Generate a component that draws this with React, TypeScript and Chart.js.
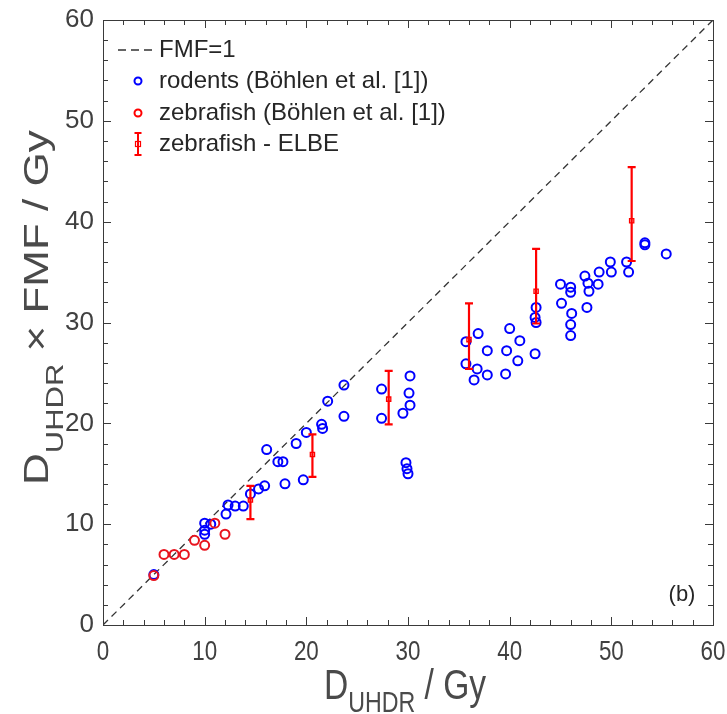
import React, { useEffect, useRef } from "react";
import { Chart, registerables } from "chart.js";

Chart.register(...registerables);

// ---------- data ----------
const fmfX = [0, 60];
const fmfY = [0, 60];

const rodentsX = [
  5.0, 10.0, 10.0, 10.0, 10.6, 12.1, 12.3, 13.0, 13.8, 14.5, 15.3, 15.9, 16.1, 17.2, 17.7, 17.9, 19.0, 19.7, 20.0,
  21.5, 21.6, 22.1, 23.7, 23.7, 27.4, 27.4, 29.5, 30.1, 30.2, 30.2, 29.8, 29.9, 30.0, 35.7, 35.7, 36.9, 36.8, 36.5,
  37.8, 37.8, 39.6, 39.7, 40.0, 41.0, 40.8, 42.5, 42.5, 42.6, 42.6, 45.0, 45.1, 46.0, 46.0, 46.1, 46.0, 46.0, 47.4,
  47.7, 47.8, 47.6, 48.7, 48.8, 49.9, 50.0, 51.5, 51.7, 53.3, 53.3, 55.4,
];
const rodentsY = [
  5.0, 10.1, 9.4, 9.0, 10.0, 11.0, 11.9, 11.8, 11.8, 13.0, 13.5, 13.8, 17.4, 16.2, 16.2, 14.0, 18.0, 14.4, 19.1,
  19.9, 19.5, 22.2, 23.8, 20.7, 23.4, 20.5, 21.0, 23.0, 24.7, 21.8, 16.1, 15.5, 15.0, 28.1, 25.9, 28.9, 25.4, 24.3,
  27.2, 24.8, 24.9, 27.2, 29.4, 28.2, 26.2, 26.9, 30.5, 30.0, 31.5, 33.8, 31.9, 33.5, 33.0, 30.9, 29.8, 28.7, 34.6,
  33.9, 33.1, 31.5, 33.8, 35.0, 36.0, 35.0, 36.0, 35.0, 37.9, 37.7, 36.8,
];

const zebraX = [5.0, 6.0, 7.0, 8.0, 9.0, 10.0, 11.0, 12.0];
const zebraY = [4.9, 7.0, 7.0, 7.0, 8.4, 7.9, 10.1, 9.0];

const elbeX = [14.5, 20.6, 28.1, 36.0, 42.6, 52.0];
const elbeY = [12.4, 16.9, 22.4, 28.3, 33.1, 40.1];
const elbeHigh = [13.8, 18.9, 25.2, 31.9, 37.3, 45.4];
const elbeLow = [10.5, 14.7, 19.9, 25.4, 29.9, 36.1];

const axisMin = 0;
const axisMax = 60;
const majorStep = 10;
const minorStep = 2;

const legendLabels = [
  "FMF=1",
  "rodents (Böhlen et al. [1])",
  "zebrafish (Böhlen et al. [1])",
  "zebrafish - ELBE",
];
const panelLabel = "(b)";

// ---------- styles ----------
const SANS = "'Liberation Sans', Arial, Helvetica, sans-serif";
const TEXT = "#262626";
const TICKTXT = "#404040";
const TITLE = "#4a4a4a";
const AXIS = "#3a3a3a";
const BLUE = "#0000ff";
const RED = "#ff0000";

const pts = (xs: number[], ys: number[]) => xs.map((x, i) => ({ x, y: ys[i] }));

const framePlugin = {
  id: "frame",
  afterDraw(chart: any) {
    const { ctx, chartArea, scales } = chart;
    const { left, right, top, bottom } = chartArea;
    const xs = scales.x;
    const ys = scales.y;
    ctx.save();
    ctx.strokeStyle = AXIS;
    ctx.lineWidth = 1;
    ctx.strokeRect(Math.round(left) + 0.5, Math.round(top) + 0.5, Math.round(right - left), Math.round(bottom - top));
    ctx.beginPath();
    for (let v = axisMin; v <= axisMax; v += minorStep) {
      const len = v % majorStep === 0 ? 8 : 5;
      const px = Math.round(xs.getPixelForValue(v)) + 0.5;
      ctx.moveTo(px, bottom);
      ctx.lineTo(px, bottom - len);
      ctx.moveTo(px, top);
      ctx.lineTo(px, top + len);
      const py = Math.round(ys.getPixelForValue(v)) + 0.5;
      ctx.moveTo(left, py);
      ctx.lineTo(left + len, py);
      ctx.moveTo(right, py);
      ctx.lineTo(right - len, py);
    }
    ctx.stroke();

    // x tick labels, horizontally squeezed like the reference
    ctx.fillStyle = TICKTXT;
    ctx.font = `28px ${SANS}`;
    ctx.textAlign = "center";
    ctx.textBaseline = "alphabetic";
    (xs.ticks || []).forEach((t: any) => {
      const px = xs.getPixelForValue(t.value);
      ctx.save();
      ctx.translate(px, 660);
      ctx.scale(0.8, 1);
      ctx.fillText(String(t.value), 0, 0);
      ctx.restore();
    });
    ctx.restore();
  },
};

const errorBarPlugin = {
  id: "errorbars",
  afterDatasetsDraw(chart: any) {
    const { ctx, scales } = chart;
    const xs = scales.x;
    const ys = scales.y;
    ctx.save();
    ctx.strokeStyle = RED;
    ctx.lineWidth = 2.2;
    ctx.beginPath();
    for (let i = 0; i < elbeX.length; i++) {
      const px = xs.getPixelForValue(elbeX[i]);
      const p1 = ys.getPixelForValue(elbeHigh[i]);
      const p2 = ys.getPixelForValue(elbeLow[i]);
      ctx.moveTo(px, p1);
      ctx.lineTo(px, p2);
      ctx.moveTo(px - 4, p1);
      ctx.lineTo(px + 4, p1);
      ctx.moveTo(px - 4, p2);
      ctx.lineTo(px + 4, p2);
    }
    ctx.stroke();
    ctx.restore();
  },
};

const textPlugin = {
  id: "texts",
  afterDraw(chart: any) {
    const { ctx, chartArea } = chart;
    ctx.save();
    ctx.fillStyle = TITLE;
    ctx.textBaseline = "alphabetic";
    ctx.textAlign = "left";

    // x title: D_UHDR / Gy (horizontally squeezed like the reference)
    {
      const sq = 0.8;
      const big = `42px ${SANS}`;
      const small = `29px ${SANS}`;
      ctx.font = big;
      const wD = ctx.measureText("D").width;
      const wR = ctx.measureText(" / Gy").width;
      ctx.font = small;
      const wS = ctx.measureText("UHDR").width;
      const total = (wD + wS + wR) * sq;
      const cx = (chartArea.left + chartArea.right) / 2;
      ctx.save();
      ctx.translate(cx - total / 2 - 3, 699);
      ctx.scale(sq, 1);
      ctx.font = big;
      ctx.fillText("D", 0, 0);
      ctx.font = small;
      ctx.fillText("UHDR", wD, 13);
      ctx.font = big;
      ctx.fillText(" / Gy", wD + wS, 0);
      ctx.restore();
    }

    // y title: D_UHDR × FMF / Gy (rotated)
    {
      const sq = 0.78;
      const big = `44px ${SANS}`;
      const small = `31px ${SANS}`;
      ctx.font = big;
      const wD = ctx.measureText("D").width;
      ctx.font = small;
      const wS = ctx.measureText("UHDR").width;
      ctx.save();
      ctx.translate(48, 485);
      ctx.rotate(-Math.PI / 2);
      ctx.scale(1, sq);
      ctx.font = big;
      ctx.fillText("D", 0, 0);
      ctx.font = small;
      ctx.fillText("UHDR", wD, 19);
      ctx.font = big;
      ctx.fillText(" \u00d7 FMF / Gy", wD + wS, 0);
      ctx.restore();
    }

    // legend
    ctx.fillStyle = TEXT;
    ctx.font = `24px ${SANS}`;
    ctx.textBaseline = "middle";
    const rows = [50, 81, 113, 144];
    const tx = 159;
    const mx = 138;
    legendLabels.forEach((t, i) => ctx.fillText(t, tx, rows[i]));
    // row 1: dashed line
    ctx.strokeStyle = "#333333";
    ctx.lineWidth = 1.5;
    ctx.setLineDash([8, 5]);
    ctx.beginPath();
    ctx.moveTo(118, rows[0]);
    ctx.lineTo(157, rows[0]);
    ctx.stroke();
    ctx.setLineDash([]);
    // row 2/3: circles
    ctx.lineWidth = 2;
    ctx.strokeStyle = BLUE;
    ctx.beginPath();
    ctx.arc(mx, rows[1], 3.5, 0, Math.PI * 2);
    ctx.stroke();
    ctx.strokeStyle = RED;
    ctx.beginPath();
    ctx.arc(mx, rows[2], 3.5, 0, Math.PI * 2);
    ctx.stroke();
    // row 4: error bar
    ctx.lineWidth = 2;
    ctx.beginPath();
    ctx.moveTo(mx, rows[3] - 11);
    ctx.lineTo(mx, rows[3] + 11);
    ctx.moveTo(mx - 3.5, rows[3] - 11);
    ctx.lineTo(mx + 3.5, rows[3] - 11);
    ctx.moveTo(mx - 3.5, rows[3] + 11);
    ctx.lineTo(mx + 3.5, rows[3] + 11);
    ctx.stroke();
    ctx.lineWidth = 1.2;
    ctx.strokeRect(mx - 2.5, rows[3] - 2.5, 5, 5);

    // panel label
    ctx.fillStyle = TEXT;
    ctx.font = `22px ${SANS}`;
    ctx.textAlign = "center";
    ctx.fillText(panelLabel, 682, 595);
    ctx.restore();
  },
};

export default function App() {
  const ref = useRef<HTMLCanvasElement | null>(null);

  useEffect(() => {
    if (!ref.current) return;
    const chart = new Chart(ref.current, {
      type: "scatter",
      data: {
        datasets: [
          {
            label: legendLabels[3],
            data: pts(elbeX, elbeY),
            pointStyle: "rect",
            pointRadius: 3,
            borderColor: RED,
            backgroundColor: "rgba(255,0,0,0.15)",
            borderWidth: 1.3,
            order: 0,
          },
          {
            label: legendLabels[2],
            data: pts(zebraX, zebraY),
            pointStyle: "circle",
            pointRadius: 4.5,
            borderColor: "#e8141e",
            backgroundColor: "rgba(0,0,0,0)",
            borderWidth: 2,
            order: 1,
          },
          {
            label: legendLabels[1],
            data: pts(rodentsX, rodentsY),
            pointStyle: "circle",
            pointRadius: 4.5,
            borderColor: BLUE,
            backgroundColor: "rgba(0,0,0,0)",
            borderWidth: 2,
            order: 2,
          },
          {
            type: "line",
            label: legendLabels[0],
            data: pts(fmfX, fmfY),
            borderColor: "#333333",
            borderWidth: 1.3,
            borderDash: [7, 5],
            pointRadius: 0,
            fill: false,
            order: 3,
          } as any,
        ],
      },
      options: {
        responsive: false,
        animation: false,
        devicePixelRatio: 1,
        layout: { padding: { top: 20, right: 14, left: 0, bottom: 0 } },
        plugins: { legend: { display: false }, tooltip: { enabled: false } },
        scales: {
          x: {
            type: "linear",
            min: axisMin,
            max: axisMax,
            grid: { display: false, drawTicks: false },
            border: { display: false },
            ticks: {
              stepSize: majorStep,
              display: false,
            },
            afterFit(scale: any) {
              scale.height = 89;
              scale.paddingLeft = 0;
              scale.paddingRight = 0;
            },
          },
          y: {
            type: "linear",
            min: axisMin,
            max: axisMax,
            grid: { display: false, drawTicks: false },
            border: { display: false },
            ticks: {
              stepSize: majorStep,
              color: TICKTXT,
              padding: 9,
              font: { family: SANS, size: 26 },
            },
            afterFit(scale: any) {
              scale.width = 103;
              scale.paddingTop = 0;
              scale.paddingBottom = 0;
            },
          },
        },
      },
      plugins: [errorBarPlugin, framePlugin, textPlugin],
    });
    return () => chart.destroy();
  }, []);

  return (
    <div style={{ position: "fixed", left: 0, top: 0, width: 727, height: 714, background: "#fff" }}>
      <canvas ref={ref} width={727} height={714} style={{ display: "block" }} />
    </div>
  );
}
